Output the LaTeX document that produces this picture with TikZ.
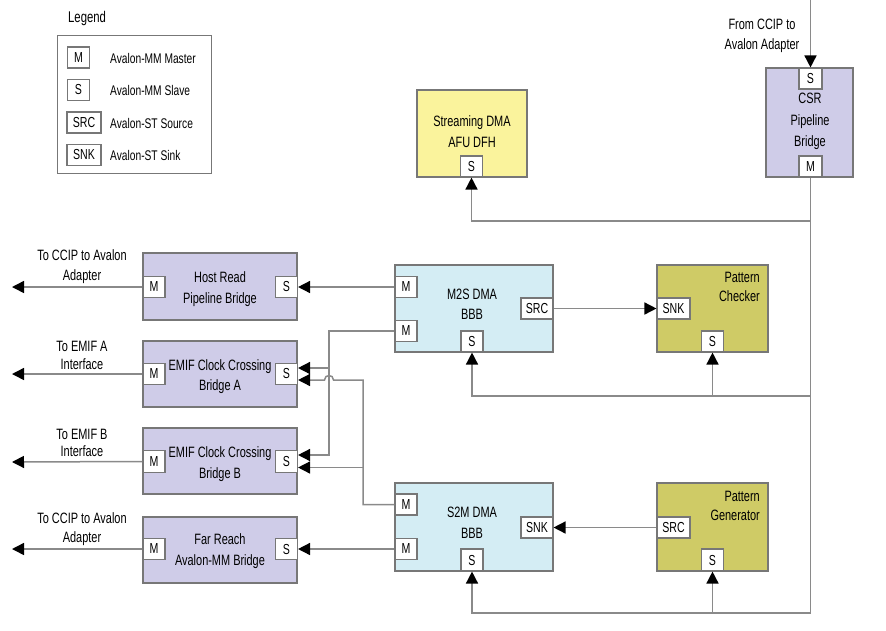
\documentclass[tikz,border=0pt]{standalone}
\usepackage{fontspec}
\setmainfont{Liberation Sans}[FakeStretch=0.73]
\usetikzlibrary{arrows.meta}
\definecolor{lav}{HTML}{CFCCE8}
\definecolor{lblue}{HTML}{D4EDF4}
\definecolor{olivey}{HTML}{CFCB66}
\definecolor{pyel}{HTML}{FAF39C}
\definecolor{edgec}{HTML}{777777}
\definecolor{wire}{HTML}{8A8A8A}
\begin{document}
\begin{tikzpicture}[x=1pt,y=-1pt,
  box/.style={draw=edgec, line width=1.3pt, inner sep=0pt},
  port/.style={draw=edgec, fill=white, line width=1.1pt, inner sep=0pt,
    minimum width=22pt, minimum height=21pt, font=\fontsize{14.5}{16}\selectfont},
  wport/.style={port, minimum width=33pt},
  txt/.style={inner sep=0pt, align=center, font=\fontsize{15}{20.5}\selectfont},
  legtxt/.style={inner sep=0pt, anchor=west, font=\fontsize{14}{16}\selectfont},
  wline/.style={draw=wire, line width=1.5pt},
  conn/.style={wline, -{Triangle[length=12pt,width=12pt,color=black]}}
]
\useasboundingbox (0,0) rectangle (886,630);

% Legend
\node[inner sep=0pt, anchor=west, font=\fontsize{15.5}{17}\selectfont] (legtitle) at (68,18) {Legend};
\node[box, line width=1pt, minimum width=154pt, minimum height=138pt] (legend) at (134,104) {};
\node[port] (lgM) at (78.5,57.5) {M};
\node[port] (lgS) at (78.5,90) {S};
\node[wport, minimum width=34pt] (lgSRC) at (84,122.5) {SRC};
\node[wport, minimum width=34pt] (lgSNK) at (84,155) {SNK};
\node[legtxt] (lgt1) at (110,58) {Avalon-MM Master};
\node[legtxt] (lgt2) at (110,90) {Avalon-MM Slave};
\node[legtxt] (lgt3) at (110,123) {Avalon-ST Source};
\node[legtxt] (lgt4) at (110,155) {Avalon-ST Sink};

% Boxes
\node[box, fill=pyel, minimum width=110pt, minimum height=87pt] (dfh) at (472,133.5) {};
\node[box, fill=lav, minimum width=87pt, minimum height=109pt] (csr) at (809.5,122.5) {};
\node[box, fill=lav, minimum width=154pt, minimum height=67pt] (host) at (220,286.5) {};
\node[box, fill=lav, minimum width=154pt, minimum height=66pt] (emifa) at (220,374) {};
\node[box, fill=lav, minimum width=154pt, minimum height=66pt] (emifb) at (220,461) {};
\node[box, fill=lav, minimum width=154pt, minimum height=66pt] (far) at (220,550) {};
\node[box, fill=lblue, minimum width=158pt, minimum height=87pt] (m2s) at (474,308.5) {};
\node[box, fill=olivey, minimum width=111pt, minimum height=87pt] (chk) at (712.5,308.5) {};
\node[box, fill=lblue, minimum width=158pt, minimum height=88pt] (s2m) at (474,527) {};
\node[box, fill=olivey, minimum width=111pt, minimum height=88pt] (gen) at (712.5,527) {};

% Box texts
\node[txt] (dfht) at (472,131.5) {Streaming DMA\\AFU DFH};
\node[txt, font=\fontsize{15}{21.5}\selectfont] (csrt) at (810,121.5) {CSR\\Pipeline\\Bridge};
\node[txt] (hostt) at (220,289) {Host Read\\Pipeline Bridge};
\node[txt] (emifat) at (220,376.5) {EMIF Clock Crossing\\Bridge A};
\node[txt] (emifbt) at (220,464) {EMIF Clock Crossing\\Bridge B};
\node[txt] (fart) at (220,551) {Far Reach\\Avalon-MM Bridge};
\node[txt] (m2st) at (472,304.5) {M2S DMA\\BBB};
\node[txt] (s2mt) at (472,523) {S2M DMA\\BBB};
\node[txt, align=right, anchor=east, font=\fontsize{15}{18.5}\selectfont] (chkt) at (760,287) {Pattern\\Checker};
\node[txt, align=right, anchor=east, font=\fontsize{15}{18.5}\selectfont] (gent) at (760,506) {Pattern\\Generator};

% Outside labels
\node[txt, font=\fontsize{15}{20}\selectfont] (fromlbl) at (762,36) {From CCIP to\\Avalon Adapter};
\node[txt, font=\fontsize{15}{20}\selectfont] (lbl1) at (82,267) {To CCIP to Avalon\\Adapter};
\node[txt, font=\fontsize{15}{17.5}\selectfont] (lbl2) at (82,355.5) {To EMIF A\\Interface};
\node[txt, font=\fontsize{15}{17.5}\selectfont] (lbl3) at (82,443) {To EMIF B\\Interface};
\node[txt, font=\fontsize{15}{19}\selectfont] (lbl4) at (82,529.5) {To CCIP to Avalon\\Adapter};

% Ports
\node[port] (dfhS) at (471.5,166.5) {S};
\node[port, minimum width=23pt] (csrS) at (810.5,78.5) {S};
\node[port, minimum width=23pt] (csrM) at (810.5,166.5) {M};
\node[port] (hostM) at (154,287) {M};
\node[port] (hostS) at (286.5,287) {S};
\node[port] (emifaM) at (154,374) {M};
\node[port] (emifaS) at (286.5,374) {S};
\node[port, minimum height=22pt] (emifbM) at (154,461.5) {M};
\node[port, minimum height=22pt] (emifbS) at (286.5,461.5) {S};
\node[port] (farM) at (154,549) {M};
\node[port] (farS) at (286.5,549) {S};
\node[port] (m2sM1) at (406,287) {M};
\node[port] (m2sM2) at (406,331) {M};
\node[wport, minimum width=32pt] (m2sSRC) at (537,308.5) {SRC};
\node[port] (m2sS) at (472,341.5) {S};
\node[wport] (chkSNK) at (673.5,308.5) {SNK};
\node[port] (chkS) at (712.5,341.5) {S};
\node[port] (s2mM1) at (406,504.5) {M};
\node[port] (s2mM2) at (406,549) {M};
\node[wport, minimum width=32pt] (s2mSNK) at (537,527.5) {SNK};
\node[port, minimum height=22pt] (s2mS) at (472,560) {S};
\node[wport] (genSRC) at (673.5,527.5) {SRC};
\node[port, minimum height=22pt] (genS) at (712.5,560) {S};

% Free ends
\coordinate (inC) at (810.5,0);
\coordinate (out1) at (12,287);
\coordinate (out2) at (12,374);
\coordinate (out3) at (12,462);
\coordinate (out4) at (12,549);
\coordinate (busA) at (810.5,221);
\coordinate (busB) at (810.5,396);
\coordinate (busC) at (810.5,613);

% Connectors
\draw[conn] (inC) -- (csrS.north);
\draw[wline] (csrM.south) -- (busC);
\draw[conn] (busA) -| (dfhS.south);
\draw[conn] (busB) -| (m2sS.south);
\draw[conn] (chkS.south |- busB) -- (chkS.south);
\draw[conn] (busC) -| (s2mS.south);
\draw[conn] (genS.south |- busC) -- (genS.south);

\draw[conn] (hostM.west) -- (out1);
\draw[conn] (emifaM.west) -- (out2);
\draw[conn] (emifbM.west) -- (out3);
\draw[conn] (farM.west) -- (out4);

\draw[conn] (m2sM1.west) -- (hostS.east);
\draw[conn] (s2mM2.west) -- (farS.east);
\draw[conn] (m2sSRC.east) -- (chkSNK.west);
\draw[conn] (genSRC.west) -- (s2mSNK.east);

\draw[conn] (m2sM2.west) -| (329,368) -- ([yshift=6pt]emifaS.east);
\draw[conn] (329,368) |- ([yshift=6.5pt]emifbS.east);
\draw[conn] (s2mM1.west) -| (363,380) -- (333.5,380)
  .. controls (333.5,374) and (324.5,374) .. (324.5,380) -- ([yshift=-6pt]emifaS.east);
\draw[conn] (363,467.5) -- ([yshift=-6pt]emifbS.east);
\end{tikzpicture}
\end{document}
